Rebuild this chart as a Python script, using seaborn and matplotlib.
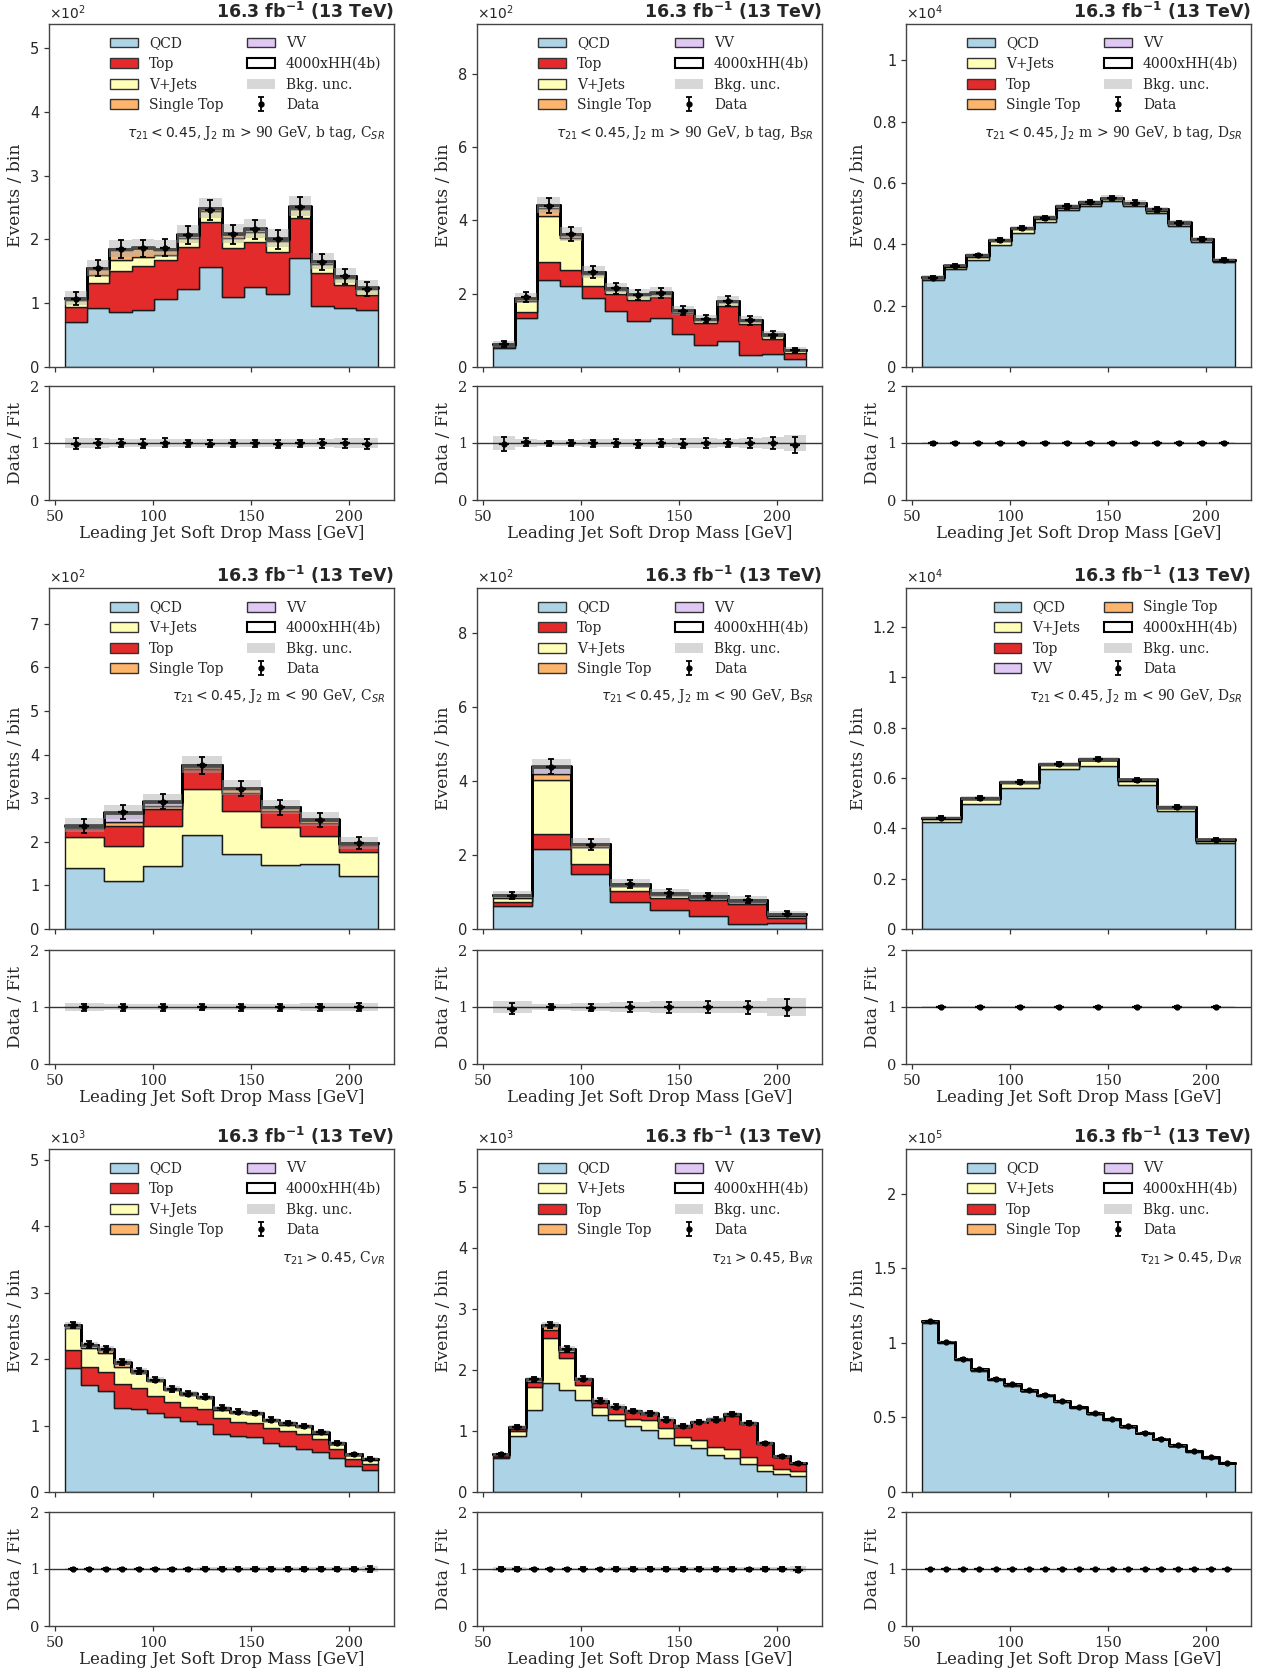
import numpy as np
import pandas as pd
import matplotlib
matplotlib.use("Agg")
import matplotlib.pyplot as plt
import seaborn as sns
from matplotlib.patches import Patch
from matplotlib.ticker import FuncFormatter, FixedLocator

# ------------------------------------------------------------------ data
MASS_LO, MASS_HI = 55.0, 215.0
XTICKS = [50, 100, 150, 200]

# Panel 1: tau21<0.45, J2 m>90, b tag, C_SR   (x 1e2)
P1_QCD = [0.71, 0.93, 0.86, 0.90, 1.06, 1.23, 1.57, 1.10, 1.25, 1.14, 1.71, 0.96, 0.93, 0.89]
P1_TOP = [0.23, 0.39, 0.65, 0.68, 0.62, 0.66, 0.71, 0.77, 0.71, 0.67, 0.63, 0.52, 0.35, 0.24]
P1_VJETS = [0.11, 0.13, 0.17, 0.15, 0.07, 0.14, 0.16, 0.16, 0.16, 0.17, 0.14, 0.14, 0.12, 0.09]
P1_STOP = [0.02, 0.09, 0.16, 0.13, 0.09, 0.04, 0.04, 0.05, 0.04, 0.03, 0.03, 0.03, 0.02, 0.02]
P1_VV = [0.005, 0.006, 0.008, 0.007, 0.006, 0.006, 0.007, 0.006, 0.006, 0.005, 0.006, 0.005, 0.004, 0.004]
P1_HH = [0.008, 0.009, 0.010, 0.010, 0.011, 0.012, 0.012, 0.011, 0.010, 0.010, 0.009, 0.008, 0.007, 0.006]
P1_DATA = [1.07, 1.55, 1.85, 1.86, 1.87, 2.07, 2.47, 2.08, 2.16, 2.00, 2.51, 1.65, 1.42, 1.23]

# Panel 2: tau21<0.45, J2 m>90, b tag, B_SR   (x 1e2)
P2_QCD = [0.52, 1.33, 2.37, 2.22, 1.87, 1.54, 1.25, 1.33, 0.90, 0.59, 0.72, 0.32, 0.36, 0.23]
P2_TOP = [0.05, 0.18, 0.50, 0.42, 0.35, 0.45, 0.59, 0.57, 0.57, 0.61, 0.94, 0.84, 0.41, 0.16]
P2_VJETS = [0.04, 0.30, 1.24, 0.89, 0.31, 0.12, 0.11, 0.09, 0.05, 0.08, 0.11, 0.09, 0.09, 0.06]
P2_STOP = [0.02, 0.05, 0.23, 0.08, 0.04, 0.03, 0.03, 0.03, 0.02, 0.02, 0.02, 0.02, 0.02, 0.02]
P2_VV = [0.005, 0.010, 0.070, 0.020, 0.010, 0.008, 0.007, 0.007, 0.006, 0.005, 0.006, 0.005, 0.004, 0.003]
P2_HH = [0.003, 0.005, 0.008, 0.008, 0.007, 0.006, 0.006, 0.005, 0.005, 0.004, 0.004, 0.003, 0.003, 0.002]
P2_DATA = [0.63, 1.90, 4.40, 3.62, 2.58, 2.14, 1.97, 2.02, 1.53, 1.31, 1.80, 1.27, 0.88, 0.46]

# Panel 3: tau21<0.45, J2 m>90, b tag, D_SR   (x 1e4)
P3_QCD = [0.284, 0.321, 0.350, 0.398, 0.438, 0.474, 0.511, 0.525, 0.540, 0.524, 0.503, 0.461, 0.408, 0.342]
P3_VJETS = [0.005, 0.006, 0.010, 0.012, 0.011, 0.009, 0.008, 0.008, 0.007, 0.007, 0.006, 0.006, 0.006, 0.004]
P3_TOP = [0.002, 0.002, 0.002, 0.003, 0.003, 0.003, 0.003, 0.003, 0.003, 0.003, 0.003, 0.002, 0.002, 0.002]
P3_STOP = [0.001, 0.001, 0.001, 0.001, 0.001, 0.001, 0.001, 0.001, 0.001, 0.001, 0.001, 0.001, 0.001, 0.001]
P3_VV = [0.001, 0.001, 0.001, 0.001, 0.001, 0.001, 0.001, 0.001, 0.001, 0.001, 0.001, 0.001, 0.001, 0.001]
P3_HH = [0.0005, 0.0005, 0.0006, 0.0006, 0.0006, 0.0007, 0.0007, 0.0007, 0.0006, 0.0006, 0.0006, 0.0005, 0.0005, 0.0004]
P3_DATA = [0.291, 0.331, 0.364, 0.414, 0.453, 0.487, 0.524, 0.538, 0.552, 0.536, 0.514, 0.471, 0.417, 0.350]

# Panel 4: tau21<0.45, J2 m<90, C_SR   (x 1e2)
P4_QCD = [1.41, 1.10, 1.44, 2.15, 1.73, 1.47, 1.48, 1.21]
P4_VJETS = [0.69, 0.80, 0.93, 1.07, 0.97, 0.86, 0.66, 0.55]
P4_TOP = [0.21, 0.46, 0.38, 0.44, 0.43, 0.37, 0.30, 0.16]
P4_STOP = [0.04, 0.10, 0.07, 0.06, 0.07, 0.07, 0.05, 0.04]
P4_VV = [0.02, 0.21, 0.10, 0.03, 0.03, 0.02, 0.02, 0.01]
P4_HH = [0.010, 0.012, 0.014, 0.015, 0.014, 0.012, 0.010, 0.008]
P4_DATA = [2.36, 2.68, 2.92, 3.75, 3.22, 2.79, 2.50, 1.97]

# Panel 5: tau21<0.45, J2 m<90, B_SR   (x 1e2)
P5_QCD = [0.63, 2.16, 1.49, 0.72, 0.51, 0.36, 0.14, 0.15]
P5_TOP = [0.09, 0.41, 0.26, 0.31, 0.32, 0.42, 0.54, 0.14]
P5_VJETS = [0.13, 1.47, 0.48, 0.12, 0.09, 0.06, 0.06, 0.07]
P5_STOP = [0.04, 0.15, 0.05, 0.04, 0.02, 0.02, 0.02, 0.02]
P5_VV = [0.03, 0.20, 0.02, 0.03, 0.03, 0.03, 0.03, 0.03]
P5_HH = [0.005, 0.010, 0.010, 0.008, 0.007, 0.006, 0.005, 0.004]
P5_DATA = [0.90, 4.39, 2.28, 1.22, 0.97, 0.89, 0.79, 0.41]

# Panel 6: tau21<0.45, J2 m<90, D_SR   (x 1e4)
P6_QCD = [0.426, 0.495, 0.558, 0.634, 0.648, 0.571, 0.468, 0.343]
P6_VJETS = [0.012, 0.021, 0.022, 0.018, 0.022, 0.018, 0.012, 0.008]
P6_TOP = [0.002, 0.002, 0.002, 0.002, 0.002, 0.002, 0.002, 0.002]
P6_VV = [0.001, 0.001, 0.001, 0.001, 0.001, 0.001, 0.001, 0.001]
P6_STOP = [0.001, 0.001, 0.001, 0.001, 0.001, 0.001, 0.001, 0.001]
P6_HH = [0.0005, 0.0006, 0.0007, 0.0008, 0.0008, 0.0007, 0.0006, 0.0005]
P6_DATA = [0.442, 0.521, 0.585, 0.656, 0.674, 0.593, 0.485, 0.354]

# Panel 7: tau21>0.45, C_VR   (x 1e3)
P7_QCD = [1.859, 1.608, 1.523, 1.271, 1.246, 1.191, 1.131, 1.070, 1.030, 0.879, 0.839, 0.829, 0.739, 0.693, 0.653, 0.603, 0.513, 0.392, 0.327]
P7_TOP = [0.277, 0.266, 0.286, 0.347, 0.312, 0.256, 0.216, 0.211, 0.226, 0.227, 0.216, 0.211, 0.226, 0.227, 0.226, 0.201, 0.140, 0.111, 0.090]
P7_VJETS = [0.336, 0.297, 0.286, 0.266, 0.226, 0.221, 0.186, 0.176, 0.151, 0.135, 0.126, 0.126, 0.100, 0.095, 0.101, 0.075, 0.066, 0.050, 0.070]
P7_STOP = [0.030, 0.035, 0.045, 0.060, 0.030, 0.015, 0.012, 0.018, 0.012, 0.015, 0.018, 0.015, 0.015, 0.015, 0.008, 0.012, 0.010, 0.010, 0.006]
P7_VV = [0.004, 0.004, 0.004, 0.004, 0.004, 0.004, 0.004, 0.004, 0.004, 0.004, 0.004, 0.004, 0.004, 0.004, 0.004, 0.004, 0.004, 0.004, 0.004]
P7_HH = [0.003, 0.003, 0.003, 0.003, 0.003, 0.003, 0.003, 0.003, 0.003, 0.003, 0.003, 0.003, 0.003, 0.003, 0.003, 0.003, 0.003, 0.003, 0.003]
P7_DATA = [2.51, 2.22, 2.15, 1.95, 1.82, 1.69, 1.55, 1.48, 1.43, 1.27, 1.21, 1.19, 1.09, 1.04, 0.99, 0.90, 0.74, 0.57, 0.50]

# Panel 8: tau21>0.45, B_VR   (x 1e3)
P8_QCD = [0.565, 0.921, 1.343, 1.782, 1.672, 1.508, 1.272, 1.179, 1.086, 1.025, 0.894, 0.768, 0.724, 0.603, 0.559, 0.466, 0.340, 0.291, 0.258]
P8_VJETS = [0.011, 0.082, 0.384, 0.740, 0.532, 0.246, 0.126, 0.109, 0.120, 0.154, 0.159, 0.137, 0.137, 0.137, 0.143, 0.110, 0.099, 0.093, 0.087]
P8_TOP = [0.027, 0.028, 0.082, 0.137, 0.088, 0.083, 0.071, 0.099, 0.099, 0.098, 0.126, 0.164, 0.280, 0.440, 0.543, 0.548, 0.356, 0.192, 0.121]
P8_STOP = [0.009, 0.031, 0.033, 0.073, 0.050, 0.005, 0.023, 0.005, 0.017, 0.005, 0.003, 0.003, 0.003, 0.003, 0.027, 0.003, 0.003, 0.006, 0.003]
P8_VV = [0.005, 0.005, 0.005, 0.005, 0.005, 0.005, 0.005, 0.005, 0.005, 0.005, 0.005, 0.005, 0.005, 0.005, 0.005, 0.005, 0.005, 0.005, 0.005]
P8_HH = [0.003, 0.003, 0.003, 0.003, 0.003, 0.003, 0.003, 0.003, 0.003, 0.003, 0.003, 0.003, 0.003, 0.003, 0.003, 0.003, 0.003, 0.003, 0.003]
P8_DATA = [0.62, 1.07, 1.85, 2.74, 2.35, 1.86, 1.50, 1.40, 1.33, 1.29, 1.19, 1.08, 1.15, 1.19, 1.28, 1.13, 0.80, 0.59, 0.47]

# Panel 9: tau21>0.45, D_VR   (x 1e5)
P9_QCD = [1.135, 0.997, 0.885, 0.810, 0.748, 0.713, 0.674, 0.646, 0.603, 0.563, 0.523, 0.485, 0.435, 0.393, 0.353, 0.308, 0.270, 0.229, 0.193]
P9_VJETS = [0.008, 0.007, 0.007, 0.010, 0.009, 0.006, 0.005, 0.004, 0.004, 0.004, 0.003, 0.003, 0.003, 0.002, 0.002, 0.002, 0.002, 0.002, 0.001]
P9_TOP = [0.001, 0.001, 0.001, 0.001, 0.001, 0.001, 0.001, 0.001, 0.001, 0.001, 0.001, 0.001, 0.001, 0.001, 0.001, 0.001, 0.001, 0.001, 0.001]
P9_STOP = [0.0005, 0.0005, 0.0005, 0.0005, 0.0005, 0.0005, 0.0005, 0.0005, 0.0005, 0.0005, 0.0005, 0.0005, 0.0005, 0.0005, 0.0005, 0.0005, 0.0005, 0.0005, 0.0005]
P9_VV = [0.0005, 0.0005, 0.0005, 0.0005, 0.0005, 0.0005, 0.0005, 0.0005, 0.0005, 0.0005, 0.0005, 0.0005, 0.0005, 0.0005, 0.0005, 0.0005, 0.0005, 0.0005, 0.0005]
P9_HH = [0.0002, 0.0002, 0.0002, 0.0002, 0.0002, 0.0002, 0.0002, 0.0002, 0.0002, 0.0002, 0.0002, 0.0002, 0.0002, 0.0002, 0.0002, 0.0002, 0.0002, 0.0002, 0.0002]
P9_DATA = [1.145, 1.006, 0.894, 0.822, 0.759, 0.721, 0.681, 0.652, 0.609, 0.569, 0.528, 0.490, 0.440, 0.397, 0.357, 0.312, 0.274, 0.233, 0.196]

SIG = "4000xHH(4b)"
COLORS = {"QCD": "#add3e6", "Top": "#e32b2b", "V+Jets": "#ffffb8",
          "Single Top": "#fdb46c", "VV": "#e0c8f5", SIG: "#ffffff"}

LUMI = r"16.3 fb$^{\mathbf{-1}}$ (13 TeV)"

PANELS = [
    dict(order=["QCD", "Top", "V+Jets", "Single Top", "VV"], exp=2, ymax=5.38,
         label=r"$\tau_{21} < 0.45$, J$_2$ m > 90 GeV, b tag, C$_{SR}$",
         vals={"QCD": P1_QCD, "Top": P1_TOP, "V+Jets": P1_VJETS, "Single Top": P1_STOP, "VV": P1_VV, SIG: P1_HH},
         data=P1_DATA),
    dict(order=["QCD", "Top", "V+Jets", "Single Top", "VV"], exp=2, ymax=9.35,
         label=r"$\tau_{21} < 0.45$, J$_2$ m > 90 GeV, b tag, B$_{SR}$",
         vals={"QCD": P2_QCD, "Top": P2_TOP, "V+Jets": P2_VJETS, "Single Top": P2_STOP, "VV": P2_VV, SIG: P2_HH},
         data=P2_DATA),
    dict(order=["QCD", "V+Jets", "Top", "Single Top", "VV"], exp=4, ymax=1.119,
         label=r"$\tau_{21} < 0.45$, J$_2$ m > 90 GeV, b tag, D$_{SR}$",
         vals={"QCD": P3_QCD, "Top": P3_TOP, "V+Jets": P3_VJETS, "Single Top": P3_STOP, "VV": P3_VV, SIG: P3_HH},
         data=P3_DATA),
    dict(order=["QCD", "V+Jets", "Top", "Single Top", "VV"], exp=2, ymax=7.82,
         label=r"$\tau_{21} < 0.45$, J$_2$ m < 90 GeV, C$_{SR}$",
         vals={"QCD": P4_QCD, "Top": P4_TOP, "V+Jets": P4_VJETS, "Single Top": P4_STOP, "VV": P4_VV, SIG: P4_HH},
         data=P4_DATA),
    dict(order=["QCD", "Top", "V+Jets", "Single Top", "VV"], exp=2, ymax=9.22,
         label=r"$\tau_{21} < 0.45$, J$_2$ m < 90 GeV, B$_{SR}$",
         vals={"QCD": P5_QCD, "Top": P5_TOP, "V+Jets": P5_VJETS, "Single Top": P5_STOP, "VV": P5_VV, SIG: P5_HH},
         data=P5_DATA),
    dict(order=["QCD", "V+Jets", "Top", "VV", "Single Top"], exp=4, ymax=1.354,
         label=r"$\tau_{21} < 0.45$, J$_2$ m < 90 GeV, D$_{SR}$",
         vals={"QCD": P6_QCD, "Top": P6_TOP, "V+Jets": P6_VJETS, "Single Top": P6_STOP, "VV": P6_VV, SIG: P6_HH},
         data=P6_DATA),
    dict(order=["QCD", "Top", "V+Jets", "Single Top", "VV"], exp=3, ymax=5.16,
         label=r"$\tau_{21} > 0.45$, C$_{VR}$",
         vals={"QCD": P7_QCD, "Top": P7_TOP, "V+Jets": P7_VJETS, "Single Top": P7_STOP, "VV": P7_VV, SIG: P7_HH},
         data=P7_DATA),
    dict(order=["QCD", "V+Jets", "Top", "Single Top", "VV"], exp=3, ymax=5.63,
         label=r"$\tau_{21} > 0.45$, B$_{VR}$",
         vals={"QCD": P8_QCD, "Top": P8_TOP, "V+Jets": P8_VJETS, "Single Top": P8_STOP, "VV": P8_VV, SIG: P8_HH},
         data=P8_DATA),
    dict(order=["QCD", "V+Jets", "Top", "Single Top", "VV"], exp=5, ymax=2.30,
         label=r"$\tau_{21} > 0.45$, D$_{VR}$",
         vals={"QCD": P9_QCD, "Top": P9_TOP, "V+Jets": P9_VJETS, "Single Top": P9_STOP, "VV": P9_VV, SIG: P9_HH},
         data=P9_DATA),
]

# ------------------------------------------------------------------ style
sns.set_theme(style="ticks")
plt.rcParams["font.family"] = ["DejaVu Sans"]
plt.rcParams["axes.linewidth"] = 1.0
plt.rcParams["axes.edgecolor"] = "#444444"

SERIF = "DejaVu Serif"
FIG_W, FIG_H = 1268, 1675
COL_LEFT = [49, 477, 906]
COL_W = 345
ROWS = [(24, 367, 386, 500), (588, 929, 950, 1064), (1149, 1492, 1512, 1626)]
UNC_COLOR = "#a8a8a8"
UNC_ALPHA = 0.45
LABEL_SIZE = 12.0


def rect(left, top, bottom):
    return [left / FIG_W, 1 - bottom / FIG_H, COL_W / FIG_W, (bottom - top) / FIG_H]


def style_ticks(ax, serif):
    ax.tick_params(axis="both", which="both", direction="out", length=3.5, width=0.9,
                   color="#333333", labelsize=10.5, left=True, bottom=True, top=False, right=False)
    for lab in ax.get_xticklabels() + ax.get_yticklabels():
        lab.set_family(SERIF if serif else "DejaVu Sans")


def draw_panel(fig, p, r, c):
    mt, mb, rt, rb = ROWS[r]
    ax = fig.add_axes(rect(COL_LEFT[c], mt, mb))
    rax = fig.add_axes(rect(COL_LEFT[c], rt, rb))
    scale = 10 ** p["exp"]
    data = np.asarray(p["data"], dtype=float) * scale
    n = len(data)
    edges = np.linspace(MASS_LO, MASS_HI, n + 1)
    centers = 0.5 * (edges[:-1] + edges[1:])
    names = p["order"] + [SIG]

    frames = [pd.DataFrame({"mass": centers,
                            "w": np.asarray(p["vals"][k], dtype=float) * scale,
                            "proc": [k] * n})
              for k in names]
    df = pd.concat(frames, ignore_index=True)
    sns.histplot(data=df, x="mass", weights="w", hue="proc", hue_order=names[::-1],
                 multiple="stack", element="step", bins=n, binrange=(MASS_LO, MASS_HI),
                 palette=COLORS, alpha=1, edgecolor="#1a1a1a", linewidth=1.0,
                 legend=False, ax=ax)
    for coll in ax.collections:
        fc = coll.get_facecolor()
        if len(fc) and np.allclose(fc[0][:3], 1.0):
            coll.set_linewidth(2.0)
            coll.set_edgecolor("black")

    total = sum(np.asarray(p["vals"][k], dtype=float) * scale for k in names)
    unc = np.sqrt(total)
    lo = total - unc
    hi = total + unc
    ax.fill_between(edges, np.r_[lo, lo[-1]], np.r_[hi, hi[-1]], step="post",
                    color=UNC_COLOR, alpha=UNC_ALPHA, lw=0, zorder=5)
    derr = np.sqrt(data)
    cont = ax.errorbar(centers, data, yerr=derr, fmt="o", color="black", ms=3.5,
                       capsize=2.5, elinewidth=1.3, capthick=1.3, zorder=10)
    ax.plot(centers, data, marker="_", ms=7, mew=1.6, ls="none", color="black", zorder=10)

    ax.set_xlim(MASS_LO - 8, MASS_HI + 8)
    ax.set_ylim(0, p["ymax"] * scale)
    ax.xaxis.set_major_locator(FixedLocator(XTICKS))
    ax.set_xticklabels([])
    ax.yaxis.set_major_formatter(FuncFormatter(lambda v, pos, s=scale: f"{v / s:g}"))
    ax.set_xlabel("")
    ax.set_ylabel("Events / bin", family=SERIF, fontsize=12.3)
    style_ticks(ax, serif=False)

    ax.text(0.0, 1.015, rf"$\times10^{{{p['exp']}}}$", transform=ax.transAxes,
            ha="left", va="baseline", fontsize=10)
    ax.text(1.0, 1.017, LUMI, transform=ax.transAxes, ha="right", va="baseline",
            fontsize=12.5, fontweight="bold")
    ax.text(0.975, 0.682, p["label"], transform=ax.transAxes, ha="right", va="center",
            fontsize=10, family=SERIF)

    handles = [Patch(facecolor=COLORS[k], edgecolor="#333333", lw=1, label=k) for k in p["order"]]
    handles.append(Patch(facecolor="white", edgecolor="black", lw=1.5, label=SIG))
    handles.append(Patch(facecolor=UNC_COLOR, alpha=UNC_ALPHA, lw=0, label="Bkg. unc."))
    handles.append(cont)
    labels = p["order"] + [SIG, "Bkg. unc.", "Data"]
    ax.legend(handles, labels, ncol=2, loc="upper right", frameon=False,
              prop={"family": SERIF, "size": 10}, labelspacing=0.47,
              handlelength=2.0, handletextpad=0.8, columnspacing=1.7)

    # ratio panel
    rel = unc / total
    rax.fill_between(edges, np.r_[1 - rel, 1 - rel[-1]], np.r_[1 + rel, 1 + rel[-1]],
                     step="post", color=UNC_COLOR, alpha=UNC_ALPHA, lw=0, zorder=2)
    rax.axhline(1.0, color="#333333", lw=1.0, zorder=3)
    ratio = data / total
    rax.errorbar(centers, ratio, yerr=derr / total, fmt="o", color="black", ms=3.5,
                 capsize=2.5, elinewidth=1.3, capthick=1.3, zorder=10)
    rax.plot(centers, ratio, marker="_", ms=7, mew=1.6, ls="none", color="black", zorder=10)
    rax.set_xlim(MASS_LO - 8, MASS_HI + 8)
    rax.set_ylim(0, 2)
    rax.yaxis.set_major_locator(FixedLocator([0, 1, 2]))
    rax.xaxis.set_major_locator(FixedLocator(XTICKS))
    rax.set_ylabel("Data / Fit", family=SERIF, fontsize=12.3)
    rax.set_xlabel("Leading Jet Soft Drop Mass [GeV]", family=SERIF, fontsize=LABEL_SIZE, labelpad=1)
    style_ticks(rax, serif=True)


fig = plt.figure(figsize=(FIG_W / 100, FIG_H / 100), dpi=100)
for i, p in enumerate(PANELS):
    draw_panel(fig, p, i // 3, i % 3)

fig.savefig("out.png", dpi=100)
